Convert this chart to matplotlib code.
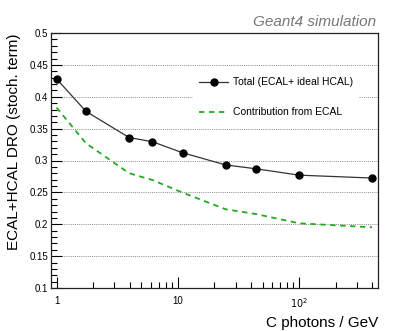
import numpy as np
import matplotlib
matplotlib.use("Agg")
import matplotlib.pyplot as plt
from matplotlib.ticker import FixedLocator, NullFormatter, MultipleLocator

plt.rcParams['font.family'] = ['Liberation Sans', 'DejaVu Sans']

# photons per GeV
c_photons = [1.0, 1.75, 3.97, 6.17, 11.0, 24.9, 44.2, 100.0, 400.0]
total = [0.428, 0.377, 0.336, 0.3295, 0.312, 0.293, 0.287, 0.277, 0.2725]
ecal_only = [0.383, 0.327, 0.280, 0.2694, 0.2495, 0.2234, 0.216, 0.2015, 0.1952]

fig = plt.figure(figsize=(4.19, 3.31), dpi=100)
ax = fig.add_axes([51/419, 43/331, 327/419, 255/331])

ax.plot(c_photons, total, color='#333333', lw=0.9, marker='o', ms=5,
        mfc='black', mec='black', label='Total (ECAL+ ideal HCAL)', zorder=3)
ax.plot(c_photons, ecal_only, color='#22aa22', lw=1.3, ls=(0, (3, 2.5)),
        label='Contribution from ECAL', zorder=3)

ax.set_xscale('log')
ax.set_xlim(0.9, 448)
ax.set_ylim(0.1, 0.5)

ax.xaxis.set_major_locator(FixedLocator([1, 10, 100]))
ax.set_xticklabels(['1', '10', r'$10^{2}$'])
minors = [m * 10**e for e in range(0, 3) for m in range(2, 10)]
ax.xaxis.set_minor_locator(FixedLocator(minors))
ax.xaxis.set_minor_formatter(NullFormatter())

ax.yaxis.set_major_locator(MultipleLocator(0.05))
ax.yaxis.set_minor_locator(MultipleLocator(0.01))
ax.set_yticks(np.arange(0.1, 0.501, 0.05))
ax.set_yticklabels(['0.1', '0.15', '0.2', '0.25', '0.3', '0.35', '0.4', '0.45', '0.5'])

ax.tick_params(which='both', direction='in', labelsize=7, colors='black')
ax.tick_params(which='major', length=8, width=0.8)
ax.tick_params(which='minor', length=4, width=0.8)
ax.tick_params(axis='x', which='major', pad=6)
ax.tick_params(axis='y', which='major', pad=2)

ax.grid(axis='y', which='major', ls=(0, (1, 1.2)), color='#888888', lw=0.7)
for s in ax.spines.values():
    s.set_linewidth(0.9)
    s.set_color('#222222')

ax.set_xlabel('C photons / GeV', fontsize=11, loc='right')
ax.set_ylabel('ECAL+HCAL DRO (stoch. term)', fontsize=11, loc='top', labelpad=6)

leg = ax.legend(loc='upper left', bbox_to_anchor=((188-51)/327, (288-66)/255),
                frameon=True, fontsize=7.5, handlelength=2.7, labelspacing=1.9,
                borderpad=0.6, handletextpad=0.5, fancybox=False)
leg.get_frame().set_edgecolor('none')
leg.get_frame().set_facecolor('white')
leg.get_frame().set_alpha(1)

fig.text(376/419, 1 - 22/331, 'Geant4 simulation', fontsize=11, style='italic',
         color='#777777', ha='right', va='center')

fig.savefig('out.png', dpi=100)
